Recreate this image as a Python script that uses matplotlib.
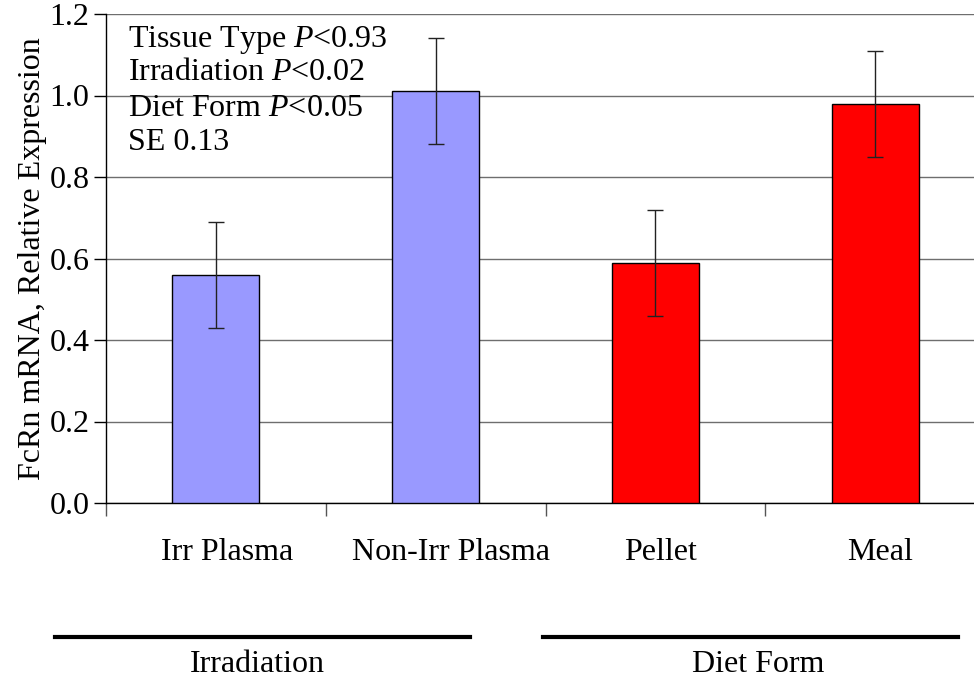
import matplotlib
matplotlib.use("Agg")
import matplotlib.pyplot as plt
from matplotlib.lines import Line2D
from matplotlib.transforms import ScaledTranslation

plt.rcParams['font.family'] = ['Liberation Serif', 'DejaVu Serif']
plt.rcParams['mathtext.fontset'] = 'custom'
plt.rcParams['mathtext.rm'] = 'Liberation Serif'
plt.rcParams['mathtext.it'] = 'Liberation Serif:italic'

categories = ["Irr Plasma", "Non-Irr Plasma", "Pellet", "Meal"]
values = [0.56, 1.01, 0.59, 0.98]
errors = [0.13, 0.13, 0.13, 0.13]
colors = ["#9999FF", "#9999FF", "#FF0000", "#FF0000"]
yticks = [0.0, 0.2, 0.4, 0.6, 0.8, 1.0, 1.2]
annotations = ["Tissue Type $\\mathit{P}$<0.93", "Irradiation $\\mathit{P}$<0.02",
               "Diet Form $\\mathit{P}$<0.05", "SE 0.13"]
groups = ["Irradiation", "Diet Form"]

FS = 23
W, H = 974, 681
fig = plt.figure(figsize=(W / 100, H / 100), dpi=100)
ax = fig.add_axes([106 / W, 1 - 503 / H, 879 / W, 489 / H])

x = list(range(len(categories)))
ax.bar(x, values, width=0.395, color=colors, edgecolor="black", linewidth=1, zorder=3)
ax.errorbar(x, values, yerr=errors, fmt="none", ecolor="#222222", elinewidth=1,
            capsize=5.5, capthick=1, zorder=4)

ax.set_xlim(-0.5, 3.5)
ax.set_ylim(0, 1.2)
ax.set_yticks(yticks)
ax.set_yticklabels([f"{v:.1f}" for v in yticks], fontsize=FS)
ax.yaxis.grid(True, color="#6e6e6e", linewidth=1, zorder=0)
ax.set_axisbelow(True)

ax.set_xticks([-0.5, 0.5, 1.5, 2.5, 3.5])
ax.set_xticklabels([])
ax.set_xticks(x, minor=True)
ax.set_xticklabels(categories, minor=True, fontsize=FS)
ax.tick_params(axis="x", which="major", direction="out", length=9, width=1, color="#555555")
ax.tick_params(axis="x", which="minor", length=0, pad=25)
ax.tick_params(axis="y", direction="out", length=9, width=1, pad=3)

# small horizontal offsets of category labels as in the reference
label_offsets_px = [11, 15, 5, 5]
for lbl, off in zip(ax.get_xticklabels(minor=True), label_offsets_px):
    lbl.set_transform(lbl.get_transform() + ScaledTranslation(off / 100, 0, fig.dpi_scale_trans))

for s in ["top", "right"]:
    ax.spines[s].set_visible(False)
ax.spines["left"].set_linewidth(1)
ax.spines["bottom"].set_linewidth(1)

ax.set_ylabel("FcRn mRNA, Relative Expression", fontsize=FS, labelpad=2)

ypos = [40, 72, 108, 143]
for t, yp in zip(annotations, ypos):
    fig.text(128 / W, 1 - yp / H, t, fontsize=FS, ha="left", va="center")

# group lines and labels
fig.add_artist(Line2D([55 / W, 470 / W], [1 - 637 / H, 1 - 637 / H], color="black", linewidth=3,
                      transform=fig.transFigure))
fig.add_artist(Line2D([543 / W, 958 / W], [1 - 637 / H, 1 - 637 / H], color="black", linewidth=3,
                      transform=fig.transFigure))
fig.text(257 / W, 1 - 665 / H, groups[0], fontsize=FS, ha="center", va="center")
fig.text(758 / W, 1 - 665 / H, groups[1], fontsize=FS, ha="center", va="center")

fig.savefig("out.png", dpi=100)
